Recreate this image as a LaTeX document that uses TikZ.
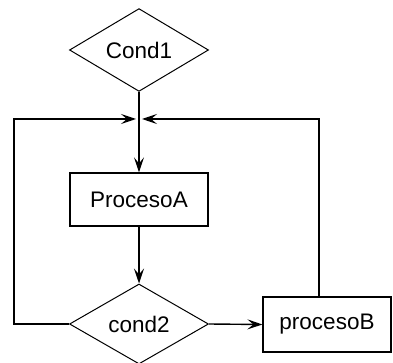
\documentclass[tikz,border=0pt]{standalone}
\usepackage{fontspec}
\setmainfont{Liberation Sans}
\usetikzlibrary{shapes.geometric,arrows.meta}
\begin{document}
\begin{tikzpicture}[x=1pt,y=-1pt,
  every node/.style={font=\fontsize{22.5}{26}\selectfont, inner sep=0pt},
  decision/.style={draw, line width=1pt, shape=diamond, minimum width=139pt, minimum height=80pt},
  procbox/.style={draw, line width=1.2pt, rectangle},
  link/.style={line width=1.4pt},
  flow/.style={link, -{Stealth[length=15pt,width=10pt,inset=6pt]}}]
\useasboundingbox (0,0) rectangle (393,363);
\clip (0,0) rectangle (393,363);

% decisions and processes
\node[decision] (c1) at (139,50) {Cond1};
\node[procbox, minimum width=138pt, minimum height=53pt] (pa) at (139,199.5) {ProcesoA};
\node[decision] (c2) at (139,324) {cond2};
\node[procbox, minimum width=128pt, minimum height=55pt] (pb) at (327,324.5) {procesoB};

% junction where both loops meet the main line
\coordinate (j)  at (139,119);
\coordinate (jl) at (136,119);
\coordinate (jr) at (142,119);
\coordinate (lc) at (14,324);
\coordinate (lt) at (14,119);
\coordinate (rt) at (319,119);

% main flow
\draw[link] (c1.south) -- (j);
\draw[flow] (j) -- (pa.north);
\draw[flow] (pa.south) -- (c2.north);
\draw[flow] (c2.east) -- (pb.west);

% loop back from cond2
\draw[flow] (c2.west) -- (lc) -- (lt) -- (jl);
% loop back from procesoB
\draw[flow] (pb.north -| rt) -- (rt) -- (jr);
\end{tikzpicture}
\end{document}
